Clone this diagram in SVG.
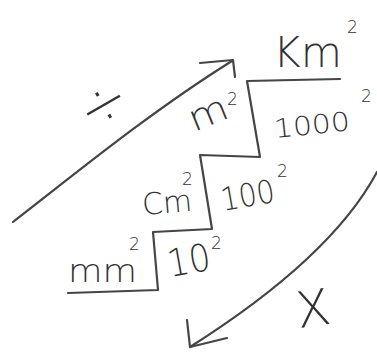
<svg xmlns="http://www.w3.org/2000/svg" width="377" height="353" viewBox="0 0 377 353">
<defs>
<style>
.ln{fill:none;stroke:#454545;stroke-width:2.2;stroke-linecap:round;stroke-linejoin:round}
.t{font-family:"DejaVu Sans","Liberation Sans",sans-serif;fill:#333333;font-weight:200}
.s{font-family:"DejaVu Sans","Liberation Sans",sans-serif;fill:#333333;font-size:17px;font-weight:200}
</style>
</defs>
<rect width="377" height="353" fill="#ffffff"/>
<g id="staircase">
<path class="ln" d="M340,79 L247,81 L260,157 L200,155 L212,229 L153,232 L158,290 L68,293"/>
</g>
<g id="node-km2">
<text class="t" x="273" y="67" font-size="42" textLength="69" lengthAdjust="spacingAndGlyphs">Km</text>
<text class="s" x="347" y="33">2</text>
</g>
<g id="node-1000">
<text class="t" x="275" y="138" font-size="26" textLength="76" lengthAdjust="spacingAndGlyphs" transform="rotate(-6 275 138)">1000</text>
<text class="s" x="361" y="102">2</text>
</g>
<g id="node-m2">
<text class="t" x="194" y="132" font-size="36" textLength="40" lengthAdjust="spacingAndGlyphs" transform="rotate(-22 194 132)">m</text>
<text class="s" x="227" y="105">2</text>
</g>
<g id="node-100">
<text class="t" x="223" y="211" font-size="32" textLength="54" lengthAdjust="spacingAndGlyphs" transform="rotate(-10 223 211)">100</text>
<text class="s" x="277" y="177">2</text>
</g>
<g id="node-cm2">
<text class="t" x="143" y="215" font-size="30" textLength="50" lengthAdjust="spacingAndGlyphs" transform="rotate(-5 143 215)">Cm</text>
<text class="s" x="182" y="185">2</text>
</g>
<g id="node-10">
<text class="t" x="170" y="277" font-size="38" textLength="43" lengthAdjust="spacingAndGlyphs" transform="rotate(-10 170 277)">10</text>
<text class="s" x="211" y="249">2</text>
</g>
<g id="node-mm2">
<text class="t" x="68" y="282" font-size="32" textLength="69" lengthAdjust="spacingAndGlyphs">mm</text>
<text class="s" x="129" y="250">2</text>
</g>
<g id="node-divide">
<text class="t" x="103" y="124" font-size="60" text-anchor="middle" transform="rotate(-30 103 104)">÷</text>
</g>
<g id="node-times">
<text class="t" x="313" y="326" font-size="50" text-anchor="middle" transform="rotate(-8 313 308)">X</text>
</g>
<g id="connectors">
<path class="ln" d="M13,222 C70,178 150,112 232,61"/>
<path class="ln" d="M200,63 L233,60 L235,77"/>
<path class="ln" d="M377,172 C345,232 280,290 190,347"/>
<path class="ln" d="M187,320 L190,347 L227,338"/>
</g>
</svg>
